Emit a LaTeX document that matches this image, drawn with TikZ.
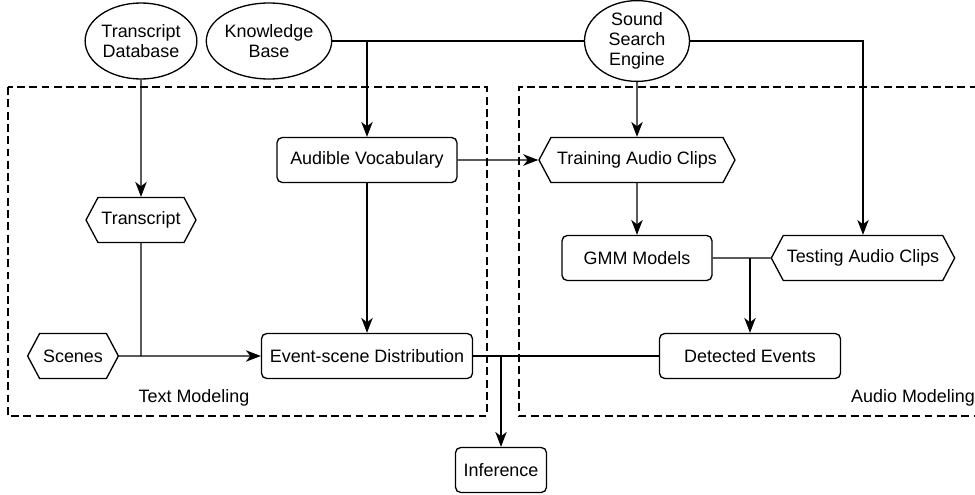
\documentclass[tikz,border=0pt]{standalone}
\usepackage{fontspec}
\setmainfont{Liberation Sans}
\usepackage{tikz}
\usetikzlibrary{arrows.meta, shapes.geometric, shapes.symbols}

\begin{document}
\begin{tikzpicture}[>={Stealth[length=8.5pt, width=6.5pt, inset=2.5pt]}, line width=0.75pt,
  font=\fontsize{10.2}{11.5}\selectfont,
  source/.style={draw, ellipse, align=center, inner sep=0pt, minimum width=2.12cm, minimum height=1.52cm},
  procbox/.style={draw, rounded corners=3pt, minimum height=0.9cm, inner sep=2pt},
  databox/.style={draw, signal, signal to=east and west, signal pointer angle=124, minimum height=0.9cm, inner sep=2pt},
  group/.style={draw, dash pattern=on 4.5pt off 2.5pt, line width=0.75pt}]
  \useasboundingbox (0,0) rectangle (19.5,-9.9);

  % Gruppen (gestrichelt)
  \draw[group] (0.16,-1.74) rectangle (9.74,-8.32);
  \draw[group] (19.8,-1.74) -- (10.38,-1.74) -- (10.38,-8.32) -- (19.8,-8.32);
  \node (textlbl) at (3.88,-7.96) {Text Modeling};
  \node (audiolbl) at (18.26,-7.96) {Audio Modeling};

  % Quellen
  \node[source] (tdb) at (2.82,-0.82) {Transcript\\Database};
  \node[source] (kb) at (5.38,-0.82) {Knowledge\\Base};
  \node[source, minimum width=2.1cm, minimum height=1.6cm] (sse) at (12.74,-0.82) {Sound\\Search\\Engine};

  % Text Modeling
  \node[procbox, minimum width=3.6cm] (voc) at (7.34,-3.2) {Audible Vocabulary};
  \node[databox, minimum width=2.12cm] (trn) at (2.82,-4.4) {Transcript};
  \node[databox, minimum width=1.8cm] (scn) at (1.46,-7.12) {Scenes};
  \node[procbox, minimum width=4.22cm] (esd) at (7.34,-7.12) {Event-scene Distribution};

  % Audio Modeling
  \node[databox, minimum width=3.92cm] (train) at (12.74,-3.2) {Training Audio Clips};
  \node[procbox, minimum width=3.0cm] (gmm) at (12.74,-5.16) {GMM Models};
  \node[databox, minimum width=3.6cm] (test) at (17.26,-5.16) {Testing Audio Clips};
  \node[procbox, minimum width=3.62cm] (det) at (15.0,-7.12) {Detected Events};

  \node[procbox, minimum width=1.82cm] (inf) at (10.02,-9.4) {Inference};

  % Verbindungen
  \draw (kb) -- (sse);
  \draw[->] (kb.east -| voc) -- (voc);
  \draw[->] (sse) -- (train);
  \draw[->] (sse.east) -| (test);
  \draw[->] (tdb) -- (trn);
  \draw (trn) -- (trn.south |- scn.east);
  \draw[->] (scn) -- (esd);
  \draw[->] (voc) -- (esd);
  \draw[->] (voc) -- (train);
  \draw[->] (train) -- (gmm);
  \draw (gmm) -- (test);
  \draw[->] (gmm.east -| det) -- (det);
  \draw (esd) -- (det);
  \draw[->] (esd.east -| inf) -- (inf);
\end{tikzpicture}
\end{document}
